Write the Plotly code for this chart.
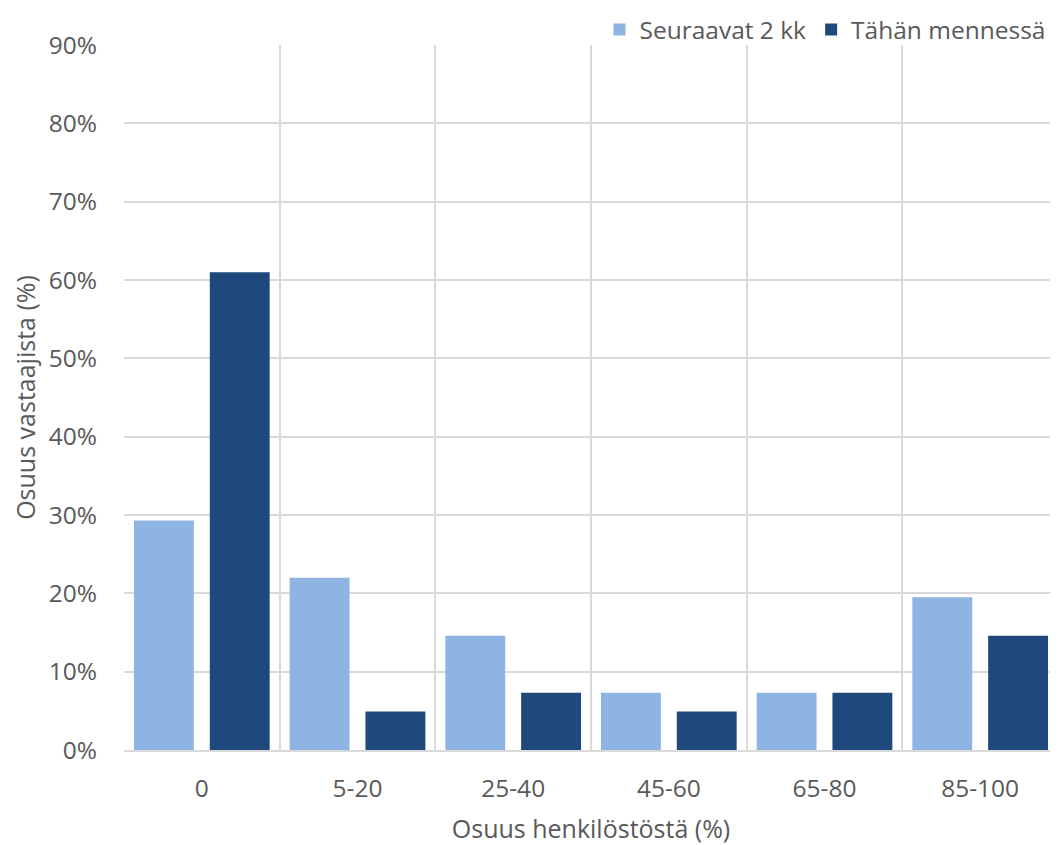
import plotly.graph_objects as go

categories = ["0", "5-20", "25-40", "45-60", "65-80", "85-100"]
seuraavat = [0.293, 0.220, 0.146, 0.073, 0.073, 0.195]
tahan = [0.610, 0.049, 0.073, 0.049, 0.073, 0.146]
series_names = ["Seuraavat 2 kk", "Tähän mennessä"]
ytick_vals = [0, 0.1, 0.2, 0.3, 0.4, 0.5, 0.6, 0.7, 0.8, 0.9]

FONT = "Open Sans"
GREY = "#595959"
GRID = "#D9D9D9"

fig = go.Figure()
fig.add_trace(go.Bar(x=categories, y=seuraavat, name=series_names[0],
                     marker=dict(color="#8EB4E3", line=dict(width=0))))
fig.add_trace(go.Bar(x=categories, y=tahan, name=series_names[1],
                     marker=dict(color="#1F497D", line=dict(width=0))))

# page has an 8px body margin, so paper is 1050x837 starting at (8, 8)
fig.update_layout(
    width=1050, height=837,
    margin=dict(l=116, r=0, t=37, b=95, autoexpand=False),
    paper_bgcolor="white", plot_bgcolor="white",
    barmode="group", bargap=0.026, bargroupgap=0.21,
    font=dict(family=FONT, size=24.5, color=GREY),
    showlegend=True,
    legend=dict(orientation="h", x=0.993, xanchor="right", y=1.022, yanchor="middle",
                font=dict(size=24.5, color=GREY), traceorder="normal",
                itemwidth=30, bgcolor="rgba(0,0,0,0)"),
)
fig.update_xaxes(
    type="category", tickson="boundaries", showgrid=True, gridcolor=GRID, gridwidth=1.5,
    ticks="", showline=True, linecolor=GRID, linewidth=1.5,
    tickfont=dict(size=24.5, color=GREY), ticklabelstandoff=16,
    title=dict(text="Osuus henkilöstöstä (%)", font=dict(size=25, color=GREY), standoff=18),
)
fig.update_yaxes(
    range=[0, 0.9], tickvals=ytick_vals, tickformat=".0%",
    showgrid=True, gridcolor=GRID, gridwidth=1.5, zeroline=False,
    ticks="", showline=False, ticklabelstandoff=26,
    tickfont=dict(size=24.5, color=GREY),
    title=dict(text="Osuus vastaajista (%)", font=dict(size=25, color=GREY), standoff=10),
)

fig.write_html("out.html")
